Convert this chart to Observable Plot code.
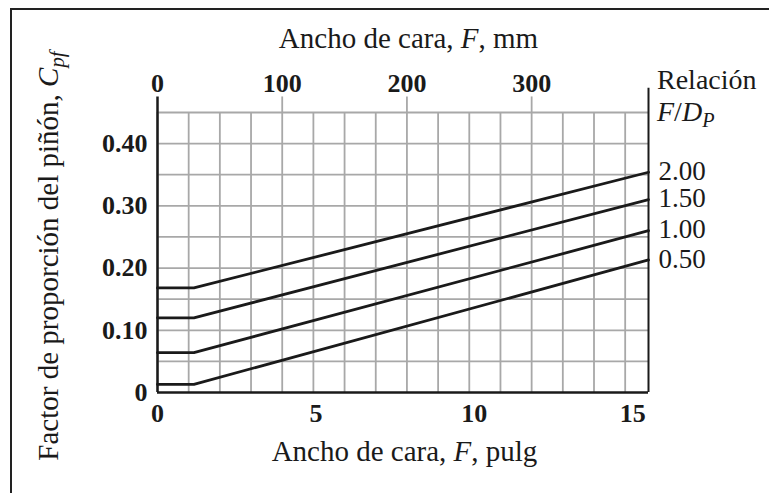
<!DOCTYPE html>
<html>
<head>
<meta charset="utf-8">
<script src="https://cdn.jsdelivr.net/npm/d3@7"></script>
<script src="https://cdn.jsdelivr.net/npm/@observablehq/plot@0.6"></script>
<style>
  body { margin: 0; background: #fff; }
  #wrap { position: relative; width: 769px; height: 493px; overflow: hidden; }
  #border { position: absolute; left: 10px; top: 8px; width: 900px; height: 700px;
            border-left: 2px solid #222; border-top: 2px solid #222; pointer-events: none; }
  svg { font-family: "Liberation Serif", "Times New Roman", serif; }
</style>
</head>
<body>
<div id="wrap"><div id="border"></div></div>
<script>
// ---- data ----
const ratios = ["0.50", "1.00", "1.50", "2.00"];
const faceWidthIn = [0, 1.15, 15.5];            // F, pulg (break points)
const cpf050 = [0.013, 0.013, 0.213];
const cpf100 = [0.064, 0.064, 0.260];
const cpf150 = [0.120, 0.120, 0.310];
const cpf200 = [0.168, 0.168, 0.354];
const seriesValues = [cpf050, cpf100, cpf150, cpf200];

const xTicksIn = [0, 5, 10, 15];
const yTicks = [0, 0.10, 0.20, 0.30, 0.40];
const yGrid = [0.05, 0.10, 0.15, 0.20, 0.25, 0.30, 0.35, 0.40, 0.45];
const mmTicks = [0, 100, 200, 300];
const mmGrid = [0, 25, 50, 75, 100, 125, 150, 175, 200, 225, 250, 275, 300, 325, 350, 375];
const MM_PER_IN = 25.4;

const rows = [];
ratios.forEach((r, i) => faceWidthIn.forEach((f, j) => rows.push({ratio: r, F: f, Cpf: seriesValues[i][j]})));
const ends = ratios.map((r, i) => ({ratio: r, F: faceWidthIn[faceWidthIn.length - 1], Cpf: seriesValues[i][seriesValues[i].length - 1]}));

const ink = "#1a1a1a";
const grid = "#a8a8a8";

const plot = Plot.plot({
  width: 769,
  height: 493,
  marginLeft: 157,
  marginRight: 121,
  marginTop: 112,
  marginBottom: 101,
  style: {fontFamily: "'Liberation Serif', 'Times New Roman', serif", background: "transparent", overflow: "visible"},
  x: {domain: [0, 15.5], axis: null},
  y: {domain: [0, 0.45], axis: null},
  marks: [
    // grid
    Plot.ruleX(mmGrid.map(m => m / MM_PER_IN), {y1: 0, y2: 0.45, stroke: grid, strokeWidth: 1.8}),
    Plot.ruleY(yGrid, {x1: 0, x2: 15.5, stroke: grid, strokeWidth: 1.8}),
    // mm major tick extensions above grid
    Plot.ruleX(mmTicks.slice(1).map(m => m / MM_PER_IN), {y1: 0.45, y2: 0.475, stroke: grid, strokeWidth: 1.8}),
    // axes lines
    Plot.ruleX([0], {y1: 0, y2: 0.475, stroke: ink, strokeWidth: 2.5}),
    Plot.ruleX([15.5], {y1: 0, y2: 0.489, stroke: ink, strokeWidth: 2}),
    Plot.ruleY([0], {x1: 0, x2: 15.5, stroke: ink, strokeWidth: 2.5}),
    // curves
    Plot.line(rows, {x: "F", y: "Cpf", z: "ratio", stroke: ink, strokeWidth: 2.8, strokeLinejoin: "miter"}),
    // y tick labels
    Plot.text(yTicks, {x: 0, y: d => d, dx: -10, textAnchor: "end", text: d => d === 0 ? "0" : d.toFixed(2),
      fontSize: 26, fontWeight: "bold", fill: ink}),
    // bottom tick labels (pulg)
    Plot.text(xTicksIn, {x: d => d, y: 0, dy: 21, text: d => String(d), fontSize: 26, fontWeight: "bold", fill: ink}),
    // top tick labels (mm)
    Plot.text(mmTicks, {x: d => d / MM_PER_IN, y: 0.45, dy: -29, text: d => String(d), fontSize: 26, fontWeight: "bold", fill: ink}),
    // right labels
    Plot.text(ends, {x: "F", y: "Cpf", dx: 10, dy: -1, textAnchor: "start", text: "ratio", fontSize: 27, fill: ink})
  ]
});

document.getElementById("wrap").prepend(plot);

// titles with italics / subscripts
const svg = d3.select(plot);
const xs = plot.scale("x"), ys = plot.scale("y");
const cx = (xs.apply(0) + xs.apply(15.5)) / 2;
const cy = (ys.apply(0) + ys.apply(0.45)) / 2;

function addTitle(parts, attrs) {
  const t = svg.append("text").attr("fill", ink);
  for (const [k, v] of Object.entries(attrs)) t.attr(k, v);
  parts.forEach(p => {
    const s = t.append("tspan").text(p.t);
    if (p.i) s.attr("font-style", "italic");
    if (p.sub) s.attr("font-size", "0.72em").attr("baseline-shift", "-28%");
  });
  return t;
}

addTitle([{t: "Ancho de cara, "}, {t: "F", i: true}, {t: ", mm"}],
  {x: cx + 6, y: 48, "text-anchor": "middle", "font-size": 29});
addTitle([{t: "Ancho de cara, "}, {t: "F", i: true}, {t: ", pulg"}],
  {x: cx + 2, y: 461, "text-anchor": "middle", "font-size": 29});
addTitle([{t: "Factor de proporción del piñón, "}, {t: "C", i: true}, {t: "pf", i: true, sub: true}],
  {transform: `translate(58,${cy + 4}) rotate(-90)`, "text-anchor": "middle", "font-size": 29});
addTitle([{t: "Relación"}],
  {x: xs.apply(15.5) + 9, y: 89, "text-anchor": "start", "font-size": 28});
addTitle([{t: "F", i: true}, {t: "/"}, {t: "D", i: true}, {t: "P", i: true, sub: true}],
  {x: xs.apply(15.5) + 9, y: 121, "text-anchor": "start", "font-size": 28});
</script>
</body>
</html>
